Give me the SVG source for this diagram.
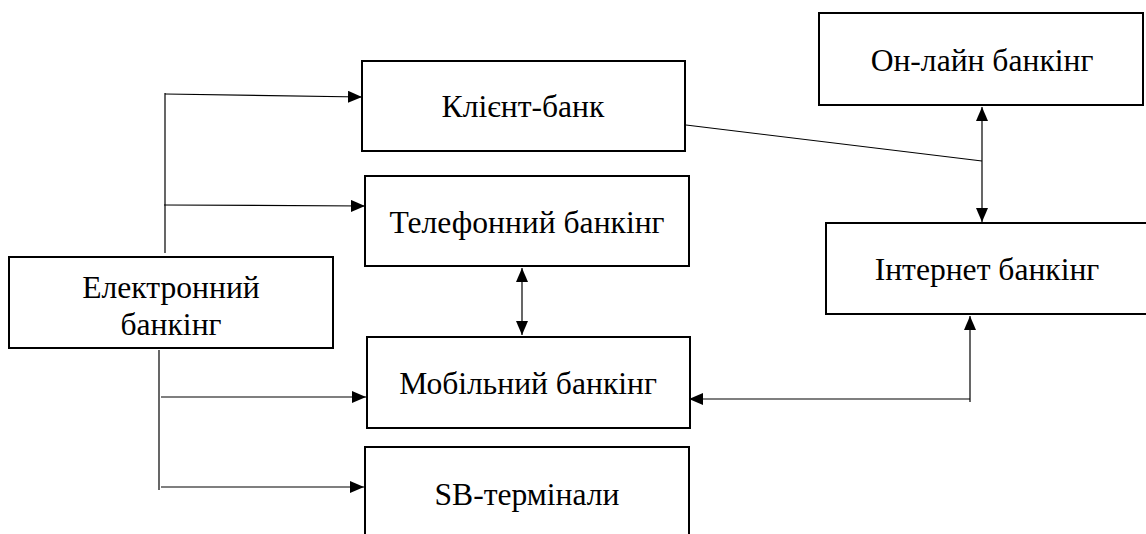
<svg xmlns="http://www.w3.org/2000/svg" width="1146" height="534" viewBox="0 0 1146 534">
<style>
.box{fill:#fff;stroke:#000;stroke-width:2}
.t{font-family:"Liberation Serif","Times New Roman","DejaVu Serif",serif;font-size:31.6px;fill:#000;text-anchor:middle}
.c{fill:none;stroke:#000;stroke-width:1.2}
</style>
<defs>
<marker id="ah" viewBox="0 0 14 12" refX="14" refY="6" markerWidth="14" markerHeight="12" markerUnits="userSpaceOnUse" orient="auto-start-reverse">
<path d="M0,0 L14,6 L0,12 Z" fill="#000"/>
</marker>
</defs>
<rect width="1146" height="534" fill="#fff"/>
<g id="connectors">
<path class="c" d="M165,93 V253"/>
<path class="c" d="M165,94 L362,97" marker-end="url(#ah)"/>
<path class="c" d="M164,205 L365,206" marker-end="url(#ah)"/>
<path class="c" d="M159,350 V490"/>
<path class="c" d="M161,397 L366,397" marker-end="url(#ah)"/>
<path class="c" d="M161,487 L364,487" marker-end="url(#ah)"/>
<path class="c" d="M522,268 V335" marker-start="url(#ah)" marker-end="url(#ah)"/>
<path class="c" d="M686,125 L982,161"/>
<path class="c" d="M982,107 V222" marker-start="url(#ah)" marker-end="url(#ah)"/>
<path class="c" d="M970,402 V316" marker-end="url(#ah)"/>
<path class="c" d="M970,399 H689" marker-end="url(#ah)"/>
</g>
<g id="n-electronic">
<rect class="box" x="9" y="257" width="324" height="91"/>
<text class="t" x="171" y="298">Електронний</text>
<text class="t" x="171" y="335">банкінг</text>
</g>
<g id="n-client">
<rect class="box" x="362" y="61" width="323" height="90"/>
<text class="t" x="523" y="117">Клієнт-банк</text>
</g>
<g id="n-phone">
<rect class="box" x="365" y="176" width="324" height="90"/>
<text class="t" x="527" y="233">Телефонний банкінг</text>
</g>
<g id="n-mobile">
<rect class="box" x="367" y="337" width="323" height="91"/>
<text class="t" x="528" y="394">Мобільний банкінг</text>
</g>
<g id="n-sb">
<rect class="box" x="365" y="447" width="324" height="100"/>
<text class="t" x="527" y="505">SB-термінали</text>
</g>
<g id="n-online">
<rect class="box" x="819" y="13" width="324" height="92"/>
<text class="t" x="982" y="71">Он-лайн банкінг</text>
</g>
<g id="n-internet">
<rect class="box" x="826" y="223" width="330" height="91"/>
<text class="t" x="987" y="280">Інтернет банкінг</text>
</g>
</svg>
